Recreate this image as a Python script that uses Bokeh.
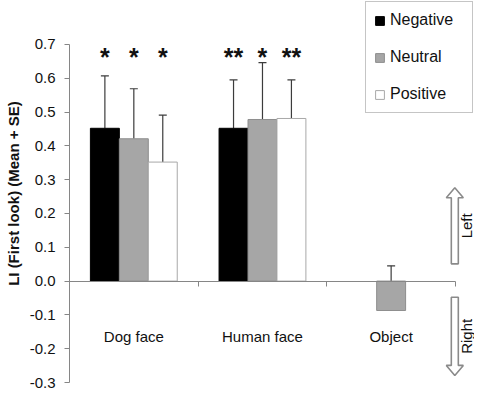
import math
from bokeh.plotting import figure
from bokeh.models import (ColumnDataSource, Range1d, FixedTicker, NumeralTickFormatter,
                          Whisker, TeeHead, Legend, LegendItem)
from bokeh.core.properties import value
from bokeh.embed import file_html
from bokeh.resources import INLINE

# ---------------- data ----------------
groups = ["Dog face", "Human face", "Object"]
series = ["Negative", "Neutral", "Positive"]
negative = [0.452, 0.452, None]
neutral = [0.421, 0.478, -0.087]
positive = [0.352, 0.481, None]
negative_se = [0.155, 0.143, None]
neutral_se = [0.148, 0.168, 0.132]
positive_se = [0.139, 0.114, None]
stars_negative = ["*", "**", ""]
stars_neutral = ["*", "*", ""]
stars_positive = ["*", "**", ""]
y_ticks = [-0.3, -0.2, -0.1, 0.0, 0.1, 0.2, 0.3, 0.4, 0.5, 0.6, 0.7]
y_label = "LI (First look)  (Mean + SE)"
direction_labels = ["Left", "Right"]

# ---------------- style ----------------
FONT = "Liberation Sans"
W, H = 474, 390
LEFT, BOTTOM = 69, 8
X_END = 3.148
Y_START, Y_END = -0.3, 0.830
BAR_W = 0.225
offsets = {"Negative": -BAR_W, "Neutral": 0.0, "Positive": BAR_W}
fills = {"Negative": "#000000", "Neutral": "#a6a6a6", "Positive": "#ffffff"}
lines = {"Negative": "#000000", "Neutral": "#8e8e8e", "Positive": "#a8a8a8"}
AXIS_COLOR = "#868686"

p = figure(width=W, height=H, x_range=Range1d(0, X_END), y_range=Range1d(Y_START, Y_END),
           output_backend="svg", toolbar_location=None,
           min_border_left=LEFT, min_border_right=0, min_border_top=0,
           min_border_bottom=BOTTOM)
p.xgrid.visible = False
p.ygrid.visible = False
p.outline_line_color = None
p.background_fill_color = "white"
p.border_fill_color = "white"

# y axis
ya = p.yaxis[0]
ya.ticker = FixedTicker(ticks=y_ticks)
ya.formatter = NumeralTickFormatter(format="0.0")
ya.bounds = (y_ticks[0], y_ticks[-1])
ya.axis_line_color = AXIS_COLOR
ya.major_tick_line_color = AXIS_COLOR
ya.major_tick_out = 5
ya.major_tick_in = 0
ya.minor_tick_line_color = None
ya.major_label_standoff = 9
ya.major_label_text_font = FONT
ya.major_label_text_font_size = "15px"
ya.major_label_text_color = "#111111"
ya.axis_label = y_label
ya.axis_label_text_font = FONT
ya.axis_label_text_font_size = "15px"
ya.axis_label_text_font_style = "bold"
ya.axis_label_text_color = "#111111"
ya.axis_label_standoff = 5

# x axis drawn at y = 0
n = len(groups)
xa = p.xaxis[0]
xa.fixed_location = 0
xa.ticker = FixedTicker(ticks=[i + 0.5 for i in range(n)], minor_ticks=list(range(n + 1)))
xa.major_label_overrides = {i + 0.5: g for i, g in enumerate(groups)}
xa.bounds = (0, n)
xa.axis_line_color = AXIS_COLOR
xa.major_tick_line_color = None
xa.major_tick_out = 0
xa.major_tick_in = 0
xa.minor_tick_line_color = AXIS_COLOR
xa.minor_tick_out = 5
xa.minor_tick_in = 0
xa.major_label_standoff = 42
xa.major_label_text_font = FONT
xa.major_label_text_font_size = "15px"
xa.major_label_text_color = "#111111"

# bars, error bars, stars
data = {"Negative": (negative, negative_se, stars_negative),
        "Neutral": (neutral, neutral_se, stars_neutral),
        "Positive": (positive, positive_se, stars_positive)}
legend_items = []
for name in series:
    vals, ses, stars = data[name]
    xs, tops, uppers, st = [], [], [], []
    for i, (v, s, a) in enumerate(zip(vals, ses, stars)):
        if v is None:
            continue
        xs.append(i + 0.5 + offsets[name])
        tops.append(v)
        uppers.append(v + s)
        st.append(a)
    src = ColumnDataSource(dict(x=xs, top=tops, upper=uppers, stars=st))
    r = p.vbar(x="x", top="top", bottom=0, width=BAR_W, source=src,
               fill_color=fills[name], line_color=lines[name], line_width=1)
    legend_items.append(LegendItem(label=name, renderers=[r]))
    w = Whisker(source=src, base="x", upper="upper", lower="top", dimension="height",
                line_color="#3c3c3c", line_width=1.2,
                upper_head=TeeHead(size=8, line_color="#3c3c3c", line_width=1.2),
                lower_head=None)
    p.add_layout(w)
    p.text(x="x", y=0.703, text="stars", source=src, text_align="center",
           text_baseline="top", text_font=value(FONT), text_font_size="25px",
           text_font_style="bold", text_color="#111111")

# legend
legend = Legend(items=legend_items, location="top_right", orientation="vertical",
                padding=8, spacing=17, margin=1, label_height=20, label_width=74,
                label_standoff=5, glyph_width=11, glyph_height=11,
                label_text_font=FONT, label_text_font_size="16px",
                label_text_color="#111111", border_line_color="#8c8c8c",
                border_line_width=1, background_fill_color="white",
                background_fill_alpha=1.0)
p.add_layout(legend)

# direction arrows (hollow block arrows)
px_per_x = (W - LEFT) / X_END
px_per_y = (H - BOTTOM) / (Y_END - Y_START)
arrow_x = 2.995
arrow_spans = [(0.051, 0.276), (-0.048, -0.279)]  # (base, tip)
sw, hw, hl = 3.5 / px_per_x, 8.5 / px_per_x, 10 / px_per_y
axs, ays = [], []
for b, t in arrow_spans:
    s = 1 if t > b else -1
    neck = t - s * hl
    axs.append([arrow_x - sw, arrow_x - sw, arrow_x - hw, arrow_x, arrow_x + hw,
                arrow_x + sw, arrow_x + sw])
    ays.append([b, neck, neck, t, neck, neck, b])
p.patches(axs, ays, fill_color="white", line_color="#8a8a8a", line_width=1.6)

label_x = 3.085
label_y = [(b + t) / 2 for b, t in arrow_spans]
p.text(x=[label_x] * 2, y=label_y, text=direction_labels, angle=math.pi / 2,
       text_align="center", text_baseline="middle", text_font=value(FONT),
       text_font_size="15px", text_color="#111111")

open("out.html", "w").write(file_html(p, INLINE))
